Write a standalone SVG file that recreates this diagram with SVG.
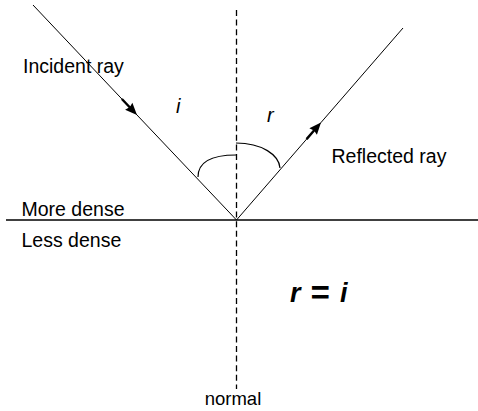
<svg xmlns="http://www.w3.org/2000/svg" width="478" height="411" viewBox="0 0 478 411">
<style>
.lbl{font-family:"Liberation Sans",Arial,sans-serif;font-size:19.5px;fill:#000}
.ang{font-family:"Liberation Sans",Arial,sans-serif;font-size:20px;font-style:italic;fill:#000}
.eq{font-family:"Liberation Sans",Arial,sans-serif;font-size:27px;font-style:italic;font-weight:bold;fill:#000}
.ray{fill:none;stroke:#000;stroke-width:1}
.arc{fill:none;stroke:#000;stroke-width:1.2}
</style>
<defs>
<marker id="arr" markerUnits="userSpaceOnUse" viewBox="-24 -6 26 12" refX="0" refY="0" markerWidth="26" markerHeight="12" orient="auto" overflow="visible">
<path d="M-22,-1.2 L-11,-1.2 L-12,-5 L0,0 L-12,5 L-11,1.2 L-22,1.2 z" fill="#000"/>
</marker>
</defs>
<rect width="478" height="411" fill="#fff"/>
<g id="boundary">
<line x1="6" y1="220" x2="478" y2="220" stroke="#000" stroke-width="1.6"/>
</g>
<g id="normal-line">
<line x1="236.5" y1="10" x2="236.5" y2="389" stroke="#000" stroke-width="1.3" stroke-dasharray="6 3.6"/>
</g>
<g id="connectors">
<polyline id="incident" class="ray" points="33,5 137,115 236.5,220" marker-mid="url(#arr)"/>
<polyline id="reflected" class="ray" points="236.5,220 321,122.5 403,28" marker-mid="url(#arr)"/>
<path id="arc-i" class="arc" d="M198,177 C198,163 210,155 236,155"/>
<path id="arc-r" class="arc" d="M236,143 C262,143 279,155 280,168"/>
</g>
<g id="labels">
<text class="lbl" x="23" y="73">Incident ray</text>
<text class="lbl" x="331.5" y="162.5">Reflected ray</text>
<text class="lbl" x="21.5" y="215.5">More dense</text>
<text class="lbl" x="21.5" y="246.5">Less dense</text>
<text class="lbl" x="233" y="405" text-anchor="middle" style="font-size:18.5px">normal</text>
<text class="ang" x="176" y="113">i</text>
<text class="ang" x="267" y="122">r</text>
<text class="eq" y="302"><tspan x="290">r</tspan><tspan x="310" dy="2" style="font-size:33px">=</tspan><tspan x="340" dy="-2">i</tspan></text>
</g>
</svg>
